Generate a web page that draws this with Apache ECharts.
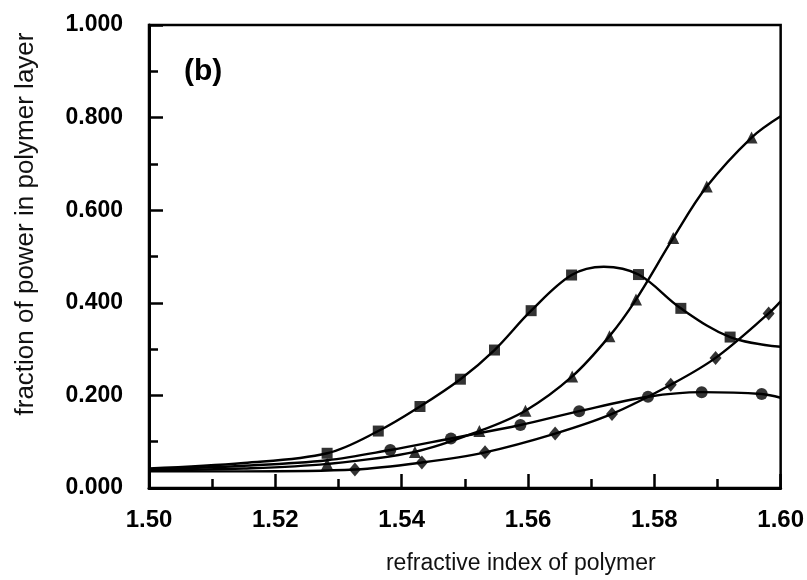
<!DOCTYPE html>
<html>
<head>
<meta charset="utf-8">
<script src="https://cdn.jsdelivr.net/npm/echarts@6/dist/echarts.min.js"></script>
<style>html,body{margin:0;padding:0;background:#fff}#c{width:807px;height:580px}</style>
</head>
<body>
<div id="c"></div>
<script>
// tick labels
const xTickLabels = ['1.50', '1.52', '1.54', '1.56', '1.58', '1.60'];
const yTickLabels = ['0.000', '0.200', '0.400', '0.600', '0.800', '1.000'];

// Squares: curve points and marker points
const squareCurveX = [1.500, 1.515, 1.5282, 1.5363, 1.5429, 1.5493, 1.5547, 1.5605, 1.5669, 1.5720, 1.5775, 1.5842, 1.5920, 1.6000];
const squareCurveY = [0.042, 0.054, 0.075, 0.123, 0.176, 0.235, 0.298, 0.383, 0.460, 0.478, 0.461, 0.388, 0.326, 0.305];
const squareX = [1.5282, 1.5363, 1.5429, 1.5493, 1.5547, 1.5605, 1.5669, 1.5775, 1.5842, 1.5920];
const squareY = [0.075, 0.123, 0.176, 0.235, 0.298, 0.383, 0.460, 0.461, 0.388, 0.326];

// Triangles
const triangleCurveX = [1.500, 1.515, 1.5282, 1.5421, 1.5523, 1.5596, 1.5670, 1.5729, 1.5771, 1.5830, 1.5883, 1.5954, 1.6000];
const triangleCurveY = [0.038, 0.042, 0.052, 0.078, 0.123, 0.167, 0.241, 0.328, 0.407, 0.540, 0.651, 0.757, 0.803];
const triangleX = [1.5282, 1.5421, 1.5523, 1.5596, 1.5670, 1.5729, 1.5771, 1.5830, 1.5883, 1.5954];
const triangleY = [0.052, 0.078, 0.123, 0.167, 0.241, 0.328, 0.407, 0.540, 0.651, 0.757];

// Circles
const circleCurveX = [1.500, 1.515, 1.5282, 1.5382, 1.5478, 1.5588, 1.5681, 1.5790, 1.5875, 1.5970, 1.6000];
const circleCurveY = [0.040, 0.048, 0.060, 0.082, 0.107, 0.136, 0.166, 0.197, 0.207, 0.203, 0.195];
const circleX = [1.5382, 1.5478, 1.5588, 1.5681, 1.5790, 1.5875, 1.5970];
const circleY = [0.082, 0.107, 0.136, 0.166, 0.197, 0.207, 0.203];

// Diamonds
const diamondCurveX = [1.500, 1.515, 1.5326, 1.5432, 1.5532, 1.5643, 1.5733, 1.5826, 1.5897, 1.5981, 1.6000];
const diamondCurveY = [0.036, 0.036, 0.040, 0.055, 0.077, 0.1175, 0.160, 0.223, 0.281, 0.377, 0.403];
const diamondX = [1.5326, 1.5432, 1.5532, 1.5643, 1.5733, 1.5826, 1.5897, 1.5981];
const diamondY = [0.040, 0.055, 0.077, 0.1175, 0.160, 0.223, 0.281, 0.377];

const zip = (xs, ys) => xs.map((x, i) => [x, ys[i]]);

const chart = echarts.init(document.getElementById('c'), null, {renderer: 'canvas'});
const FONT = '"Liberation Sans", Arial, Helvetica, sans-serif';

function curve(xs, ys) {
  return {
    type: 'line', data: zip(xs, ys), smooth: 0.35, showSymbol: false, symbol: 'none',
    lineStyle: {color: '#000', width: 2.4}, z: 3, silent: true
  };
}
function marks(xs, ys, symbol, size) {
  return {
    type: 'scatter', data: zip(xs, ys), symbol: symbol, symbolSize: size,
    itemStyle: {color: '#000'}, z: 4, silent: true
  };
}

chart.setOption({
  animation: false,
  backgroundColor: '#fff',
  grid: {left: 149, right: 18, top: 25, bottom: 92, show: true, borderColor: '#000', borderWidth: 2.5},
  graphic: [
    {
      type: 'text', left: 184, top: 57,
      style: {text: '(b)', font: 'bold 30px ' + FONT, fill: '#000'}
    },
    {
      type: 'text', x: 26, y: 224, rotation: Math.PI / 2,
      style: {
        text: 'fraction of power in polymer layer', font: '26px ' + FONT, fill: '#111',
        textAlign: 'center', textVerticalAlign: 'middle'
      }
    }
  ],
  xAxis: {
    type: 'value', min: 1.50, max: 1.60, interval: 0.02,
    name: 'refractive index of polymer', nameLocation: 'middle', nameGap: 64,
    nameTextStyle: {fontFamily: FONT, fontSize: 23, color: '#111', padding: [0, 0, 0, 112]},
    axisLine: {show: true, lineStyle: {color: '#000', width: 3}},
    axisTick: {show: true, inside: true, length: 14, lineStyle: {color: '#000', width: 2.5}},
    minorTick: {show: true, splitNumber: 2, length: 9, lineStyle: {color: '#000', width: 2.5}},
    splitLine: {show: false},
    axisLabel: {
      margin: 20, fontFamily: FONT, fontWeight: 'bold', fontSize: 24, color: '#000',
      formatter: v => xTickLabels[Math.round((v - 1.50) / 0.02)]
    }
  },
  yAxis: {
    type: 'value', min: 0, max: 1, interval: 0.2,
    axisLine: {show: true, lineStyle: {color: '#000', width: 3}},
    axisTick: {show: true, inside: true, length: 14, lineStyle: {color: '#000', width: 2.5}},
    minorTick: {show: true, splitNumber: 2, length: 9, lineStyle: {color: '#000', width: 2.5}},
    splitLine: {show: false},
    axisLabel: {
      margin: 26, fontFamily: FONT, fontWeight: 'bold', fontSize: 23, color: '#000',
      padding: [4, 0, 0, 0],
      formatter: v => yTickLabels[Math.round(v / 0.2)]
    }
  },
  series: [
    curve(squareCurveX, squareCurveY),
    curve(triangleCurveX, triangleCurveY),
    curve(circleCurveX, circleCurveY),
    curve(diamondCurveX, diamondCurveY),
    marks(squareX, squareY, 'rect', 11),
    marks(triangleX, triangleY, 'triangle', 12),
    marks(circleX, circleY, 'circle', 12),
    marks(diamondX, diamondY, 'diamond', [12, 14])
  ]
});
</script>
</body>
</html>
